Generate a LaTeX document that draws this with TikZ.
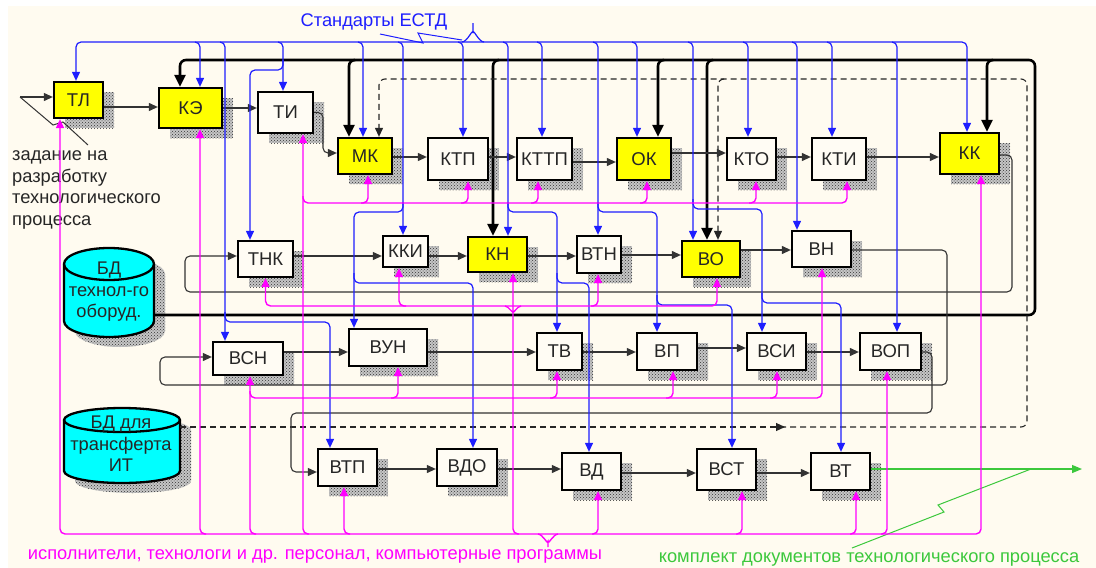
\documentclass[tikz,border=0pt]{standalone}
\usepackage{fontspec}
\setmainfont{Liberation Sans}
\usetikzlibrary{arrows.meta,calc,patterns,shadows}
\definecolor{cream}{RGB}{255,251,240}
\definecolor{boxw}{RGB}{255,252,244}
\definecolor{yel}{RGB}{255,255,0}
\definecolor{cyn}{RGB}{0,255,255}
\definecolor{mag}{RGB}{255,0,255}
\definecolor{blu}{RGB}{30,30,255}
\definecolor{grn}{RGB}{60,200,60}
\newcommand\labfont{\fontsize{18.5}{18.5}\selectfont}
\newcommand\txtfont{\fontsize{18.3}{21.5}\selectfont}
\begin{document}
\begin{tikzpicture}[x=1pt,y=-1pt,
 shd/.style={general shadow={shadow xshift=11pt,shadow yshift=-10pt,fill=gray!45},
   general shadow={shadow xshift=11pt,shadow yshift=-10pt,pattern=crosshatch dots,pattern color=black!80}},
 bx/.style={draw=black,line width=2.3pt,fill=boxw,inner sep=0pt,font=\labfont,text=black!85,shd},
 yb/.style={bx,fill=yel},
 flow/.style={draw=black!80,line width=1.1pt,rounded corners=5pt,-{Triangle[length=9pt,width=8pt]}},
 bl/.style={draw=blu,line width=1.2pt,rounded corners=5pt,-{Triangle[length=9pt,width=8pt]}},
 blx/.style={draw=blu,line width=1.2pt},
 mg/.style={draw=mag,line width=1.4pt,rounded corners=5pt,{Triangle[length=9pt,width=8pt]}-},
 mgx/.style={draw=mag,line width=1.4pt},
 thk/.style={draw=black,line width=2.6pt,rounded corners=6pt,-{Triangle[length=12pt,width=11pt]}},
 dsh/.style={draw=black!85,line width=1.1pt,dash pattern=on 6pt off 4pt,rounded corners=6pt,-{Triangle[length=9pt,width=8pt]}},
 cyl/.style={draw=black,line width=2.3pt,fill=cyn,shd},
 lbl/.style={inner sep=0pt,font=\txtfont,text=black!85}
]
\useasboundingbox (0,0) rectangle (1096,568);
\fill[white] (0,0) rectangle (1096,568);
\fill[cream] (8,6) rectangle (1096,568);

% ---------- boxes ----------
\node[yb,minimum width=49pt,minimum height=36pt] (TL) at (78.5,100) {ТЛ};
\node[yb,minimum width=63pt,minimum height=40pt] (KE) at (190.5,108) {КЭ};
\node[bx,minimum width=55pt,minimum height=41pt] (TI) at (285.5,112.5) {ТИ};
\node[yb,minimum width=54pt,minimum height=36pt] (MK) at (365,156) {МК};
\node[bx,minimum width=60pt,minimum height=42pt] (KTP) at (458,159) {КТП};
\node[bx,minimum width=55pt,minimum height=42pt] (KTTP) at (544.5,159) {КТТП};
\node[yb,minimum width=54pt,minimum height=42pt] (OK) at (644,159) {ОК};
\node[bx,minimum width=49pt,minimum height=42pt] (KTO) at (751.5,159) {КТО};
\node[bx,minimum width=54pt,minimum height=42pt] (KTI) at (839,159) {КТИ};
\node[yb,minimum width=59pt,minimum height=41pt] (KK) at (969.5,153.5) {КК};
\node[bx,minimum width=55pt,minimum height=36pt] (THK) at (265.5,259) {ТНК};
\node[bx,minimum width=45pt,minimum height=31pt] (KKI) at (405.5,251.5) {ККИ};
\node[yb,minimum width=59pt,minimum height=35pt] (KN) at (497.5,254.5) {КН};
\node[bx,minimum width=44pt,minimum height=37pt] (VTN) at (599,254.5) {ВТН};
\node[yb,minimum width=58pt,minimum height=36pt] (VO) at (711,259) {ВО};
\node[bx,minimum width=59pt,minimum height=36pt] (VN) at (821.5,249) {ВН};
\node[bx,minimum width=70pt,minimum height=33pt] (VSN) at (248,358.5) {ВСН};
\node[bx,minimum width=78pt,minimum height=37pt] (VUN) at (388,347.5) {ВУН};
\node[bx,minimum width=45pt,minimum height=37pt] (TV) at (559.5,351.5) {ТВ};
\node[bx,minimum width=60pt,minimum height=37pt] (VP) at (667,351.5) {ВП};
\node[bx,minimum width=59pt,minimum height=37pt] (VSI) at (776.5,351.5) {ВСИ};
\node[bx,minimum width=61pt,minimum height=37pt] (VOP) at (890.5,351.5) {ВОП};
\node[bx,minimum width=59pt,minimum height=37pt] (VTP) at (347.5,467.5) {ВТП};
\node[bx,minimum width=60pt,minimum height=37pt] (VDO) at (467,467.5) {ВДО};
\node[bx,minimum width=59pt,minimum height=37pt] (VD) at (591.5,471.5) {ВД};
\node[bx,minimum width=59pt,minimum height=41pt] (VST) at (726.5,469.5) {ВСТ};
\node[bx,minimum width=59pt,minimum height=37pt] (VT) at (840.5,471.5) {ВТ};

% ---------- cylinders ----------
\draw[cyl] (64,264) -- (64,321) arc[start angle=180,end angle=0,x radius=45,y radius=16]
  -- (154,264) arc[start angle=0,end angle=-180,x radius=45,y radius=16] -- cycle;
\draw[line width=2.3pt] (64,264) arc[start angle=180,end angle=0,x radius=45,y radius=16];
\node[lbl,align=center] (bd1) at (109,292) {БД\\технол-го\\оборуд.};
\draw[cyl] (64,420) -- (64,471) arc[start angle=180,end angle=0,x radius=58,y radius=12]
  -- (180,420) arc[start angle=0,end angle=-180,x radius=58,y radius=12] -- cycle;
\draw[line width=2.3pt] (64,420) arc[start angle=180,end angle=0,x radius=58,y radius=12];
\node[lbl,align=center] (bd2) at (121,444) {БД для\\трансферта\\ИТ};
\coordinate (bd1e) at (154,315);
\coordinate (bd2e) at (180,427);
\coordinate (gout) at (1082,469);

% ---------- texts ----------
\node[lbl,align=left,anchor=west] (zad) at (12,190) {задание на\\разработку\\технологического\\процесса};
\node[inner sep=0pt,font=\txtfont,text=blu] (std) at (374,22) {Стандарты ЕСТД};
\node[inner sep=0pt,font=\txtfont,text=mag] (isp) at (315,556) {исполнители, технологи и др. персонал, компьютерные программы};
\node[inner sep=0pt,font=\txtfont,text=grn] (kom) at (869,559) {комплект документов технологического процесса};

% ---------- thick black bus ----------
\draw[thk] (bd1e) -- (1035,315) -- (1035,60) -- (180,60) -- ($(KE.north)+(-10.5,0)$);
\draw[thk] (355,60) -- (349,60) -- ($(MK.north)+(-16,0)$);
\draw[thk] (499,60) -- (493,60) -- ($(KN.north)+(-4.5,0)$);
\draw[thk] (664,60) -- (658,60) -- ($(OK.north)+(14,0)$);
\draw[thk] (713,60) -- (707,60) -- ($(VO.north)+(-4,0)$);
\draw[thk] (993,60) -- (987,60) -- ($(KK.north)+(17.5,0)$);

% ---------- dashed ----------
\draw[dsh] (bd2e) -- (785,427);
\draw[dsh] (780,427) -- (1027,427) -- (1027,79) -- (379,79) -- ($(MK.north)+(14,0)$);
\draw[dsh] (724,79) -- (718,79) -- ($(VO.north)+(7,0)$);

% ---------- black flows ----------
\draw[flow] (20,97) -- ($(TL.west)+(0,-3)$);
\draw[draw=black!80,line width=1pt] (20,97) -- (53,125) -- (63,122) -- (88,145);
\draw[flow] ($(TL.east)+(0,7)$) -- ($(KE.west)+(0,-1)$);
\draw[flow] (KE.east) -- ($(TI.west)+(0,-4.5)$);
\draw[flow] (TI.east) -- (323,112.5) -- (323,153) -- ($(MK.west)+(0,-3)$);
\draw[flow] ($(MK.east)+(0,1)$) -- ($(KTP.west)+(0,-2)$);
\draw[flow] ($(KTP.east)+(0,-2)$) -- ($(KTTP.west)+(0,-2)$);
\draw[flow] ($(KTTP.east)+(0,3)$) -- ($(OK.west)+(0,3)$);
\draw[flow] ($(OK.east)+(0,-6)$) -- ($(KTO.west)+(0,-6)$);
\draw[flow] ($(KTO.east)+(0,-2)$) -- ($(KTI.west)+(0,-2)$);
\draw[flow] ($(KTI.east)+(0,-2)$) -- ($(KK.west)+(0,3.5)$);
\draw[flow] ($(KK.east)+(0,1.5)$) -- (1012,155) -- (1012,292) -- (185,292) -- (185,256) -- ($(THK.west)+(0,-3)$);
\draw[flow] ($(THK.east)+(0,-3)$) -- ($(KKI.west)+(0,4.5)$);
\draw[flow] ($(KKI.east)+(0,4.5)$) -- ($(KN.west)+(0,1.5)$);
\draw[flow] ($(KN.east)+(0,1.5)$) -- ($(VTN.west)+(0,1.5)$);
\draw[flow] ($(VTN.east)+(0,0.5)$) -- ($(VO.west)+(0,-4)$);
\draw[flow] ($(VO.east)+(0,-9)$) -- ($(VN.west)+(0,1)$);
\draw[flow] ($(VN.east)+(0,1)$) -- (947,250) -- (947,385) -- (160,385) -- (160,357) -- ($(VSN.west)+(0,-1.5)$);
\draw[flow] ($(VSN.east)+(0,-6.5)$) -- ($(VUN.west)+(0,4.5)$);
\draw[flow] ($(VUN.east)+(0,4.5)$) -- ($(TV.west)+(0,0.5)$);
\draw[flow] ($(TV.east)+(0,0.5)$) -- ($(VP.west)+(0,0.5)$);
\draw[flow] ($(VP.east)+(0,-3.5)$) -- ($(VSI.west)+(0,-3.5)$);
\draw[flow] ($(VSI.east)+(0,0.5)$) -- ($(VOP.west)+(0,0.5)$);
\draw[flow] ($(VOP.east)+(0,0.5)$) -- (932,352) -- (932,413) -- (291,413) -- (291,472) -- ($(VTP.west)+(0,4.5)$);
\draw[flow] ($(VTP.east)+(0,1.5)$) -- ($(VDO.west)+(0,1.5)$);
\draw[flow] ($(VDO.east)+(0,1.5)$) -- ($(VD.west)+(0,-2.5)$);
\draw[flow] ($(VD.east)+(0,1.5)$) -- ($(VST.west)+(0,3.5)$);
\draw[flow] ($(VST.east)+(0,3.5)$) -- ($(VT.west)+(0,1.5)$);
\draw[draw=grn,line width=1.2pt,-{Triangle[length=10pt,width=8pt]}] ($(VT.east)+(0,-2.5)$) -- (gout);
\draw[draw=grn,line width=1pt] (852,548) -- (944,512) -- (938,505) -- (1031,469);

% ---------- blue ----------
\draw[bl,{Triangle[length=9pt,width=8pt]}-{Triangle[length=9pt,width=8pt]}] ($(TL.north)+(-2.5,0)$) -- (76,42) -- (967,42) -- ($(KK.north)+(-2.5,0)$);
\draw[blx] (462,42) to[out=0,in=90] (473,33) -- (473,23);
\draw[blx] (484,42) to[out=180,in=90] (473,33);
\draw[draw=blu,line width=1pt] (380,34) -- (423,43) -- (418,33) -- (462,40);
\draw[bl] (195,42) -- (200,42) -- ($(KE.north)+(9.5,0)$);
\draw[bl] (278,42) -- (283,42) -- ($(TI.north)+(-2.5,0)$);
\draw[bl] (283,60) -- (283,70) -- (250,70) -- ($(THK.north)+(-15.5,0)$);
\draw[bl] (358,42) -- (363,42) -- ($(MK.north)+(-2,0)$);
\draw[bl] (458,42) -- (463,42) -- ($(KTP.north)+(5,0)$);
\draw[bl] (537,42) -- (542,42) -- ($(KTTP.north)+(-2.5,0)$);
\draw[bl] (632,42) -- (637,42) -- ($(OK.north)+(-7,0)$);
\draw[bl] (743,42) -- (748,42) -- ($(KTO.north)+(-3.5,0)$);
\draw[bl] (827,42) -- (832,42) -- ($(KTI.north)+(-7,0)$);
\draw[bl] (792,42) -- (797,42) -- ($(VN.north)+(-24.5,0)$);
\draw[bl] (892,42) -- (897,42) -- ($(VOP.north)+(6.5,0)$);
\draw[bl] (220,42) -- (225,42) -- ($(VSN.north)+(-23,0)$);
\draw[bl] (225,312) -- (225,322) -- (330,322) -- ($(VTP.north)+(-17.5,0)$);
\draw[bl] (398,42) -- (403,42) -- ($(KKI.north)+(-2.5,0)$);
\draw[bl] (403,202) -- (403,212) -- (354,212) -- ($(VUN.north)+(-34,0)$);
\draw[bl] (354,273) -- (354,283) -- (473,283) -- ($(VDO.north)+(6,0)$);
\draw[bl] (503,42) -- (508,42) -- ($(KN.north)+(10.5,0)$);
\draw[bl] (508,202) -- (508,212) -- (557,212) -- ($(TV.north)+(-2.5,0)$);
\draw[bl] (557,273) -- (557,283) -- (589,283) -- ($(VD.north)+(-2.5,0)$);
\draw[bl] (593,42) -- (598,42) -- ($(VTN.north)+(-1,0)$);
\draw[bl] (598,202) -- (598,212) -- (657,212) -- ($(VP.north)+(-10,0)$);
\draw[bl] (657,295) -- (657,305) -- (732,305) -- ($(VST.north)+(5.5,0)$);
\draw[bl] (688,42) -- (693,42) -- ($(VO.north)+(-18,0)$);
\draw[bl] (693,199) -- (693,209) -- (762,209) -- ($(VSI.north)+(-14.5,0)$);
\draw[bl] (762,293) -- (762,303) -- (841,303) -- ($(VT.north)+(0.5,0)$);

% ---------- magenta ----------
\draw[mg,{Triangle[length=9pt,width=8pt]}-{Triangle[length=9pt,width=8pt]}] ($(TL.south)+(-18.5,0)$) -- (60,534) -- (981,534) -- ($(KK.south)+(11.5,0)$);
\draw[mg] ($(KE.south)+(9.5,0)$) -- (200,534) -- (206,534);
\draw[mg] ($(VSN.south)+(2,0)$) -- (250,534) -- (256,534);
\draw[mg] ($(TI.south)+(17.5,0)$) -- (303,534) -- (309,534);
\draw[mg] ($(VTP.south)+(-3.5,0)$) -- (344,534) -- (350,534);
\draw[mg] ($(KN.south)+(15.5,0)$) -- (513,534) -- (519,534);
\draw[mg] ($(VD.south)+(6.5,0)$) -- (598,534) -- (592,534);
\draw[mg] ($(VST.south)+(15.5,0)$) -- (742,534) -- (736,534);
\draw[mg] ($(VT.south)+(15.5,0)$) -- (856,534) -- (850,534);
\draw[mg] ($(VOP.south)+(-3.5,0)$) -- (887,534) -- (881,534);
\draw[mgx] (538,534) to[out=0,in=-90] (548,541) -- (548,547);
\draw[mgx] (558,534) to[out=180,in=-90] (548,541);
% row 1
\draw[mg] ($(KTI.south)+(8,0)$) -- (847,203) -- (303,203) -- (303,196);
\draw[mg] ($(MK.south)+(3,0)$) -- (368,203) -- (361,203);
\draw[mg] ($(KTP.south)+(10,0)$) -- (468,203) -- (461,203);
\draw[mg] ($(KTTP.south)+(-6.5,0)$) -- (538,203) -- (531,203);
\draw[mg] ($(OK.south)+(3,0)$) -- (647,203) -- (640,203);
\draw[mg] ($(KTO.south)+(4.5,0)$) -- (756,203) -- (749,203);
% row 2
\draw[mg,{Triangle[length=9pt,width=8pt]}-{Triangle[length=9pt,width=8pt]}] (THK.south) -- (265.5,306) -- (717,306) -- ($(VO.south)+(6,0)$);
\draw[mg] ($(KKI.south)+(-6.5,0)$) -- (399,306) -- (406,306);
\draw[mg] ($(VTN.south)+(-1,0)$) -- (598,306) -- (591,306);
\draw[mgx] (505,306) to[out=0,in=-90] (513,311);
\draw[mgx] (521,306) to[out=180,in=-90] (513,311);
% row 3
\draw[mg] ($(VN.south)+(0.5,0)$) -- (822,398) -- (250,398) -- (250,391);
\draw[mg] ($(VUN.south)+(10,0)$) -- (398,398) -- (391,398);
\draw[mg] ($(TV.south)+(-2.5,0)$) -- (557,398) -- (550,398);
\draw[mg] ($(VP.south)+(6,0)$) -- (673,398) -- (666,398);
\draw[mg] ($(VSI.south)+(0.5,0)$) -- (777,398) -- (770,398);
\end{tikzpicture}
\end{document}
